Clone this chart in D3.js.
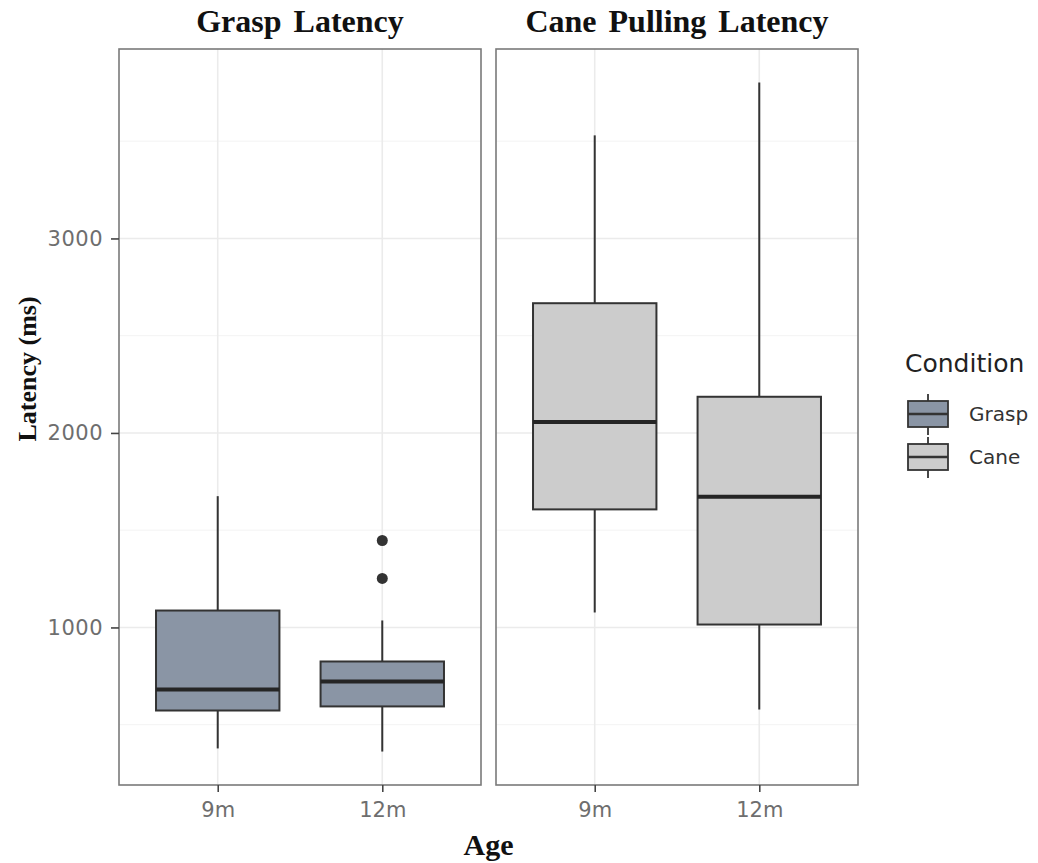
<!DOCTYPE html>
<html>
<head>
<meta charset="utf-8">
<script src="https://cdn.jsdelivr.net/npm/d3@7"></script>
<style>
  body { margin: 0; background: #fff; }
</style>
</head>
<body>
<script>
// Data
const ages = ["9m", "12m"];
const conditions = ["Grasp", "Cane"];
const panelTitles = ["Grasp Latency", "Cane Pulling Latency"];
const conditionColors = ["#8a95a5", "#cccccc"];

const graspLow = [378, 362];
const graspQ1 = [573, 594];
const graspMedian = [681, 722];
const graspQ3 = [1087, 825];
const graspHigh = [1675, 1036];
const graspOutliers = [[], [1447, 1252]];

const caneLow = [1077, 578];
const caneQ1 = [1607, 1015];
const caneMedian = [2056, 1672];
const caneQ3 = [2667, 2186];
const caneHigh = [3530, 3802];
const caneOutliers = [[], []];

const yMajor = [1000, 2000, 3000];
const yMinor = [500, 1500, 2500, 3500];

// build one table per panel
function rows(low, q1, med, q3, high, out) {
    return ages.map((a, i) => ({ age: a, low: low[i], q1: q1[i], median: med[i], q3: q3[i], high: high[i], outliers: out[i] }));
}
const panels = [
    { title: panelTitles[0], color: conditionColors[0], boxes: rows(graspLow, graspQ1, graspMedian, graspQ3, graspHigh, graspOutliers) },
    { title: panelTitles[1], color: conditionColors[1], boxes: rows(caneLow, caneQ1, caneMedian, caneQ3, caneHigh, caneOutliers) }
];

const width = 1038, height = 863;
const plotTop = 49, plotBottom = 785;
const panelW = 362;
const panelX = [119, 496];

const svg = d3.select('body').append('svg')
    .attr('width', width)
    .attr('height', height);

// y scale with ggplot-like 5% expansion
const allVals = [...graspLow, ...graspHigh, ...caneLow, ...caneHigh, ...graspOutliers.flat()];
const yMin = d3.min(allVals), yMax = d3.max(allVals);
const pad = (yMax - yMin) * 0.05;
const y = d3.scaleLinear()
    .domain([yMin - pad, yMax + pad])
    .range([plotBottom, plotTop]);

const x = d3.scalePoint()
    .domain(ages)
    .range([0, panelW])
    .padding(0.6);
const boxW = x.step() * 0.75;

const sans = 'DejaVu Sans, sans-serif';
const serif = 'Liberation Serif, serif';

panels.forEach((p, pi) => {
    const g = svg.append('g').attr('transform', `translate(${panelX[pi]},0)`);

    // grid
    g.selectAll('.minor').data(yMinor).enter().append('line')
        .attr('x1', 0).attr('x2', panelW)
        .attr('y1', d => y(d)).attr('y2', d => y(d))
        .attr('stroke', '#f3f3f3').attr('stroke-width', 1);
    g.selectAll('.major').data(yMajor).enter().append('line')
        .attr('x1', 0).attr('x2', panelW)
        .attr('y1', d => y(d)).attr('y2', d => y(d))
        .attr('stroke', '#ebebeb').attr('stroke-width', 1.6);
    g.selectAll('.vmajor').data(ages).enter().append('line')
        .attr('x1', d => x(d)).attr('x2', d => x(d))
        .attr('y1', plotTop).attr('y2', plotBottom)
        .attr('stroke', '#ebebeb').attr('stroke-width', 1.6);

    // boxes
    const b = g.selectAll('.box').data(p.boxes).enter().append('g');
    b.append('line')
        .attr('x1', d => x(d.age)).attr('x2', d => x(d.age))
        .attr('y1', d => y(d.high)).attr('y2', d => y(d.q3))
        .attr('stroke', '#333').attr('stroke-width', 2);
    b.append('line')
        .attr('x1', d => x(d.age)).attr('x2', d => x(d.age))
        .attr('y1', d => y(d.q1)).attr('y2', d => y(d.low))
        .attr('stroke', '#333').attr('stroke-width', 2);
    b.append('rect')
        .attr('x', d => x(d.age) - boxW / 2)
        .attr('width', boxW)
        .attr('y', d => y(d.q3))
        .attr('height', d => y(d.q1) - y(d.q3))
        .attr('fill', p.color)
        .attr('stroke', '#333').attr('stroke-width', 2);
    b.append('line')
        .attr('x1', d => x(d.age) - boxW / 2).attr('x2', d => x(d.age) + boxW / 2)
        .attr('y1', d => y(d.median)).attr('y2', d => y(d.median))
        .attr('stroke', '#252525').attr('stroke-width', 4);
    b.selectAll('circle').data(d => d.outliers.map(v => ({ age: d.age, v }))).enter().append('circle')
        .attr('cx', d => x(d.age)).attr('cy', d => y(d.v))
        .attr('r', 5.5).attr('fill', '#333');

    // panel border
    g.append('rect')
        .attr('x', 0).attr('y', plotTop)
        .attr('width', panelW).attr('height', plotBottom - plotTop)
        .attr('fill', 'none').attr('stroke', '#7a7a7a').attr('stroke-width', 1.6);

    // x axis
    const xa = g.append('g')
        .attr('transform', `translate(0,${plotBottom})`)
        .call(d3.axisBottom(x).tickSize(7).tickPadding(10));
    xa.select('.domain').remove();
    xa.selectAll('line').attr('stroke', '#444').attr('stroke-width', 1.6);
    xa.selectAll('text').attr('font-family', sans).attr('font-size', 21).attr('fill', '#6e6e6e');

    // strip title
    g.append('text')
        .attr('x', panelW / 2).attr('y', 32)
        .attr('text-anchor', 'middle')
        .attr('font-family', serif).attr('font-weight', 'bold').attr('font-size', 32)
        .attr('word-spacing', 4)
        .attr('fill', '#111')
        .text(p.title);
});

// y axis on the left panel
const ya = svg.append('g')
    .attr('transform', `translate(${panelX[0]},0)`)
    .call(d3.axisLeft(y).tickValues(yMajor).tickFormat(d3.format('d')).tickSize(8).tickPadding(8));
ya.select('.domain').remove();
ya.selectAll('line').attr('stroke', '#444').attr('stroke-width', 1.6);
ya.selectAll('text').attr('font-family', sans).attr('font-size', 21).attr('fill', '#6e6e6e')
    .attr('letter-spacing', 0.5);

// axis titles
svg.append('text')
    .attr('transform', 'translate(36,369) rotate(-90)')
    .attr('text-anchor', 'middle')
    .attr('font-family', serif).attr('font-weight', 'bold').attr('font-size', 26)
    .attr('fill', '#111')
    .text('Latency (ms)');
svg.append('text')
    .attr('x', (panelX[0] + panelX[1] + panelW) / 2).attr('y', 855)
    .attr('text-anchor', 'middle')
    .attr('font-family', serif).attr('font-weight', 'bold').attr('font-size', 30)
    .attr('fill', '#111')
    .text('Age');

// legend
const legend = svg.append('g').attr('transform', 'translate(905,0)');
legend.append('text')
    .attr('x', 0).attr('y', 372)
    .attr('font-family', sans).attr('font-size', 25).attr('fill', '#222')
    .text('Condition');
const key = legend.selectAll('.key').data(conditions).enter().append('g')
    .attr('transform', (d, i) => `translate(0,${394 + i * 43})`);
key.append('line')
    .attr('x1', 23).attr('x2', 23).attr('y1', 0).attr('y2', 41)
    .attr('stroke', '#333').attr('stroke-width', 1.8);
key.append('rect')
    .attr('x', 3).attr('y', 7).attr('width', 40).attr('height', 26)
    .attr('fill', (d, i) => conditionColors[i])
    .attr('stroke', '#333').attr('stroke-width', 1.8);
key.append('line')
    .attr('x1', 3).attr('x2', 43).attr('y1', 20).attr('y2', 20)
    .attr('stroke', '#333').attr('stroke-width', 2.5);
key.append('text')
    .attr('x', 64).attr('y', 27)
    .attr('font-family', sans).attr('font-size', 20).attr('fill', '#333')
    .text(d => d);
</script>
</body>
</html>
